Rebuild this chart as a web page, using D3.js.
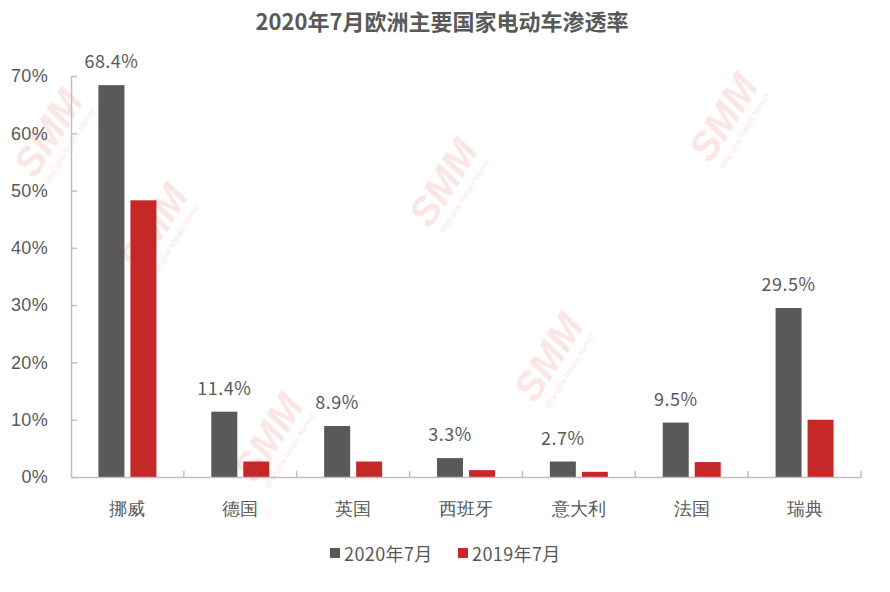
<!DOCTYPE html>
<html><head><meta charset="utf-8">
<script src="https://cdn.jsdelivr.net/npm/d3@7/dist/d3.min.js"></script>
<style>body{margin:0;background:#fff;} svg{display:block;font-family:"Noto Sans CJK SC","Noto Sans",sans-serif;}</style>
</head><body><svg id="c" width="890" height="592"></svg>
<script>
const categories = ["挪威","德国","英国","西班牙","意大利","法国","瑞典"];
const series = ["2020年7月","2019年7月"];
const values2020 = [68.4, 11.4, 8.9, 3.3, 2.7, 9.5, 29.5];
const values2019 = [48.3, 2.7, 2.7, 1.2, 0.9, 2.6, 10.0];
const yTicks = [0,10,20,30,40,50,60,70];
const title = "2020年7月欧洲主要国家电动车渗透率";
const colors = ["#595959","#c62828"];

const svg = d3.select("#c");
const W=890,H=592;
const m={left:71,right:29,top:76,bottom:115};
const x = d3.scaleBand().domain(categories).range([m.left, W-m.right]).paddingInner(0).paddingOuter(0);
const y = d3.scaleLinear().domain([0,70]).range([H-m.bottom, m.top]);

// faint watermarks (interior only)
const wm = [[455,190],[165,235],[735,125],[560,365],[280,445],[60,140]];
const wg = svg.append("g").attr("fill","#fbe6e6");
wm.forEach(([cx,cy])=>{
  const g = wg.append("g").attr("transform",`translate(${cx},${cy}) rotate(-58)`);
  g.append("text").attr("text-anchor","middle").attr("font-size",40).attr("font-weight","bold").attr("font-style","italic").attr("font-family","Liberation Sans, sans-serif").text("SMM");
  g.append("text").attr("text-anchor","middle").attr("y",14).attr("font-size",8).attr("font-family","Liberation Sans, sans-serif").text("Shanghai Metals Market");
});

// title
svg.append("text").attr("x",442).attr("y",30).attr("text-anchor","middle").attr("font-size",22).attr("font-weight","bold").attr("fill","#595959").text(title);

// y axis
const yAxis = d3.axisLeft(y).tickValues(yTicks).tickFormat(d=>d+"%").tickSizeInner(-6).tickSizeOuter(0).tickPadding(23);
const ya = svg.append("g").attr("transform",`translate(${m.left},0)`).call(yAxis);
ya.select(".domain").attr("stroke","#bfbfbf").attr("stroke-width",1.5);
ya.selectAll(".tick line").attr("stroke","#bfbfbf").attr("stroke-width",1.5);
ya.selectAll(".tick text").attr("fill","#595959").attr("font-size",18).attr("letter-spacing",0.3).attr("text-anchor","end");

// bars
const inner = 26, gap=6;
const bg = svg.append("g");
categories.forEach((c,i)=>{
  const cx = x(c)+x.bandwidth()/2;
  [values2020[i], values2019[i]].forEach((v,s)=>{
    const bx = s===0 ? cx-gap/2-inner : cx+gap/2;
    bg.append("rect").attr("x",bx).attr("y",y(v)).attr("width",inner).attr("height",y(0)-y(v)).attr("fill",colors[s]);
  });
  svg.append("text").attr("x",cx-gap/2-inner/2).attr("y",y(values2020[i])-17).attr("text-anchor","middle").attr("font-size",18).attr("letter-spacing",0.5).attr("fill","#595959").text(values2020[i].toFixed(1)+"%");
});

// x axis
const xAxis = d3.axisBottom(x).tickSize(0).tickPadding(25);
const xa = svg.append("g").attr("transform",`translate(0,${y(0)})`).call(xAxis);
xa.select(".domain").attr("stroke","#bfbfbf").attr("stroke-width",1.5);
xa.selectAll(".tick text").attr("fill","#595959").attr("font-size",18);
const bounds = categories.map(c=>x(c)).concat([x(categories[categories.length-1])+x.bandwidth()]);
xa.selectAll(".sep").data(bounds.slice(1)).enter().append("line").attr("x1",d=>d).attr("x2",d=>d).attr("y1",0).attr("y2",-6).attr("stroke","#bfbfbf").attr("stroke-width",1.5);

// legend
const lx=[330,458];
series.forEach((s,i)=>{
  svg.append("rect").attr("x",lx[i]).attr("y",548).attr("width",10).attr("height",10).attr("fill",colors[i]);
  svg.append("text").attr("x",lx[i]+14).attr("y",561).attr("font-size",18).attr("letter-spacing",0.4).attr("fill","#595959").text(s);
});
</script></body></html>
